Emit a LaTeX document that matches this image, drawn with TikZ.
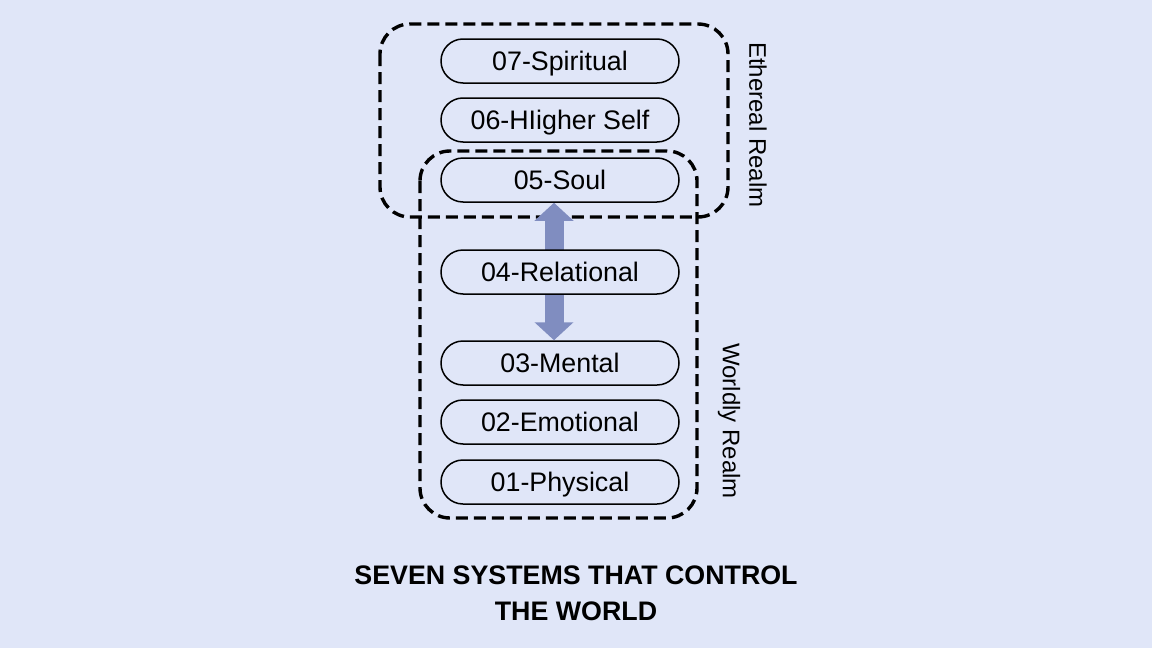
\documentclass[tikz,border=0pt]{standalone}
\usepackage{fontspec}
\setmainfont{Liberation Sans}
\usetikzlibrary{arrows.meta,positioning}
\definecolor{bgcol}{RGB}{224,230,248}
\definecolor{linkcol}{RGB}{128,141,192}

\begin{document}
\begin{tikzpicture}[
    x=0.5pt,y=-0.5pt,
    sysbox/.style={
        draw=black,
        line width=0.75pt,
        fill=bgcol,
        rounded corners=11pt,
        minimum width=119pt,
        minimum height=22pt,
        inner sep=0pt,
        text height=9.6pt,
        text depth=0pt,
        font=\fontsize{13.4}{15}\selectfont
    },
    realm/.style={
        draw=black,
        line width=1.7pt,
        dash pattern=on 6pt off 3pt,
        rounded corners=15pt
    },
    realmlabel/.style={rotate=-90, font=\fontsize{12}{14}\selectfont},
    link/.style={
        draw=linkcol,
        line width=9.5pt,
        {Triangle[width=19pt,length=9pt]}-{Triangle[width=19pt,length=9pt]}
    },
    title/.style={align=center, font=\bfseries\fontsize{13.4}{18}\selectfont}
]

% -----------------------------------------------------------------------------
% Page
% -----------------------------------------------------------------------------
\fill[bgcol] (0,0) rectangle (1152,648);
\useasboundingbox (0,0) rectangle (1152,648);

% -----------------------------------------------------------------------------
% Realms
% -----------------------------------------------------------------------------
\draw[realm] (380,24) rectangle (728,217);
\draw[realm] (420,151) rectangle (697,518);
\node[realmlabel] (ethereal) at (758,125) {Ethereal Realm};
\node[realmlabel] (worldly) at (729,421) {Worldly Realm};

% -----------------------------------------------------------------------------
% Systems
% -----------------------------------------------------------------------------
\node[sysbox] (spiritual) at (560,61) {07-Spiritual};
\node[sysbox] (higher) at (560,120) {06-HIigher Self};
\node[sysbox] (soul) at (560,180) {05-Soul};
\node[sysbox] (mental) at (560,363) {03-Mental};
\node[sysbox] (emotional) at (560,422) {02-Emotional};
\node[sysbox] (physical) at (560,482) {01-Physical};

\coordinate (linkx) at (554,0);
\draw[link] (soul.south -| linkx) -- (mental.north -| linkx);

\node[sysbox] (relational) at (560,272) {04-Relational};

% -----------------------------------------------------------------------------
% Title
% -----------------------------------------------------------------------------
\node[title] (caption) at (576,593) {SEVEN SYSTEMS THAT CONTROL\\THE WORLD};

\end{tikzpicture}
\end{document}
